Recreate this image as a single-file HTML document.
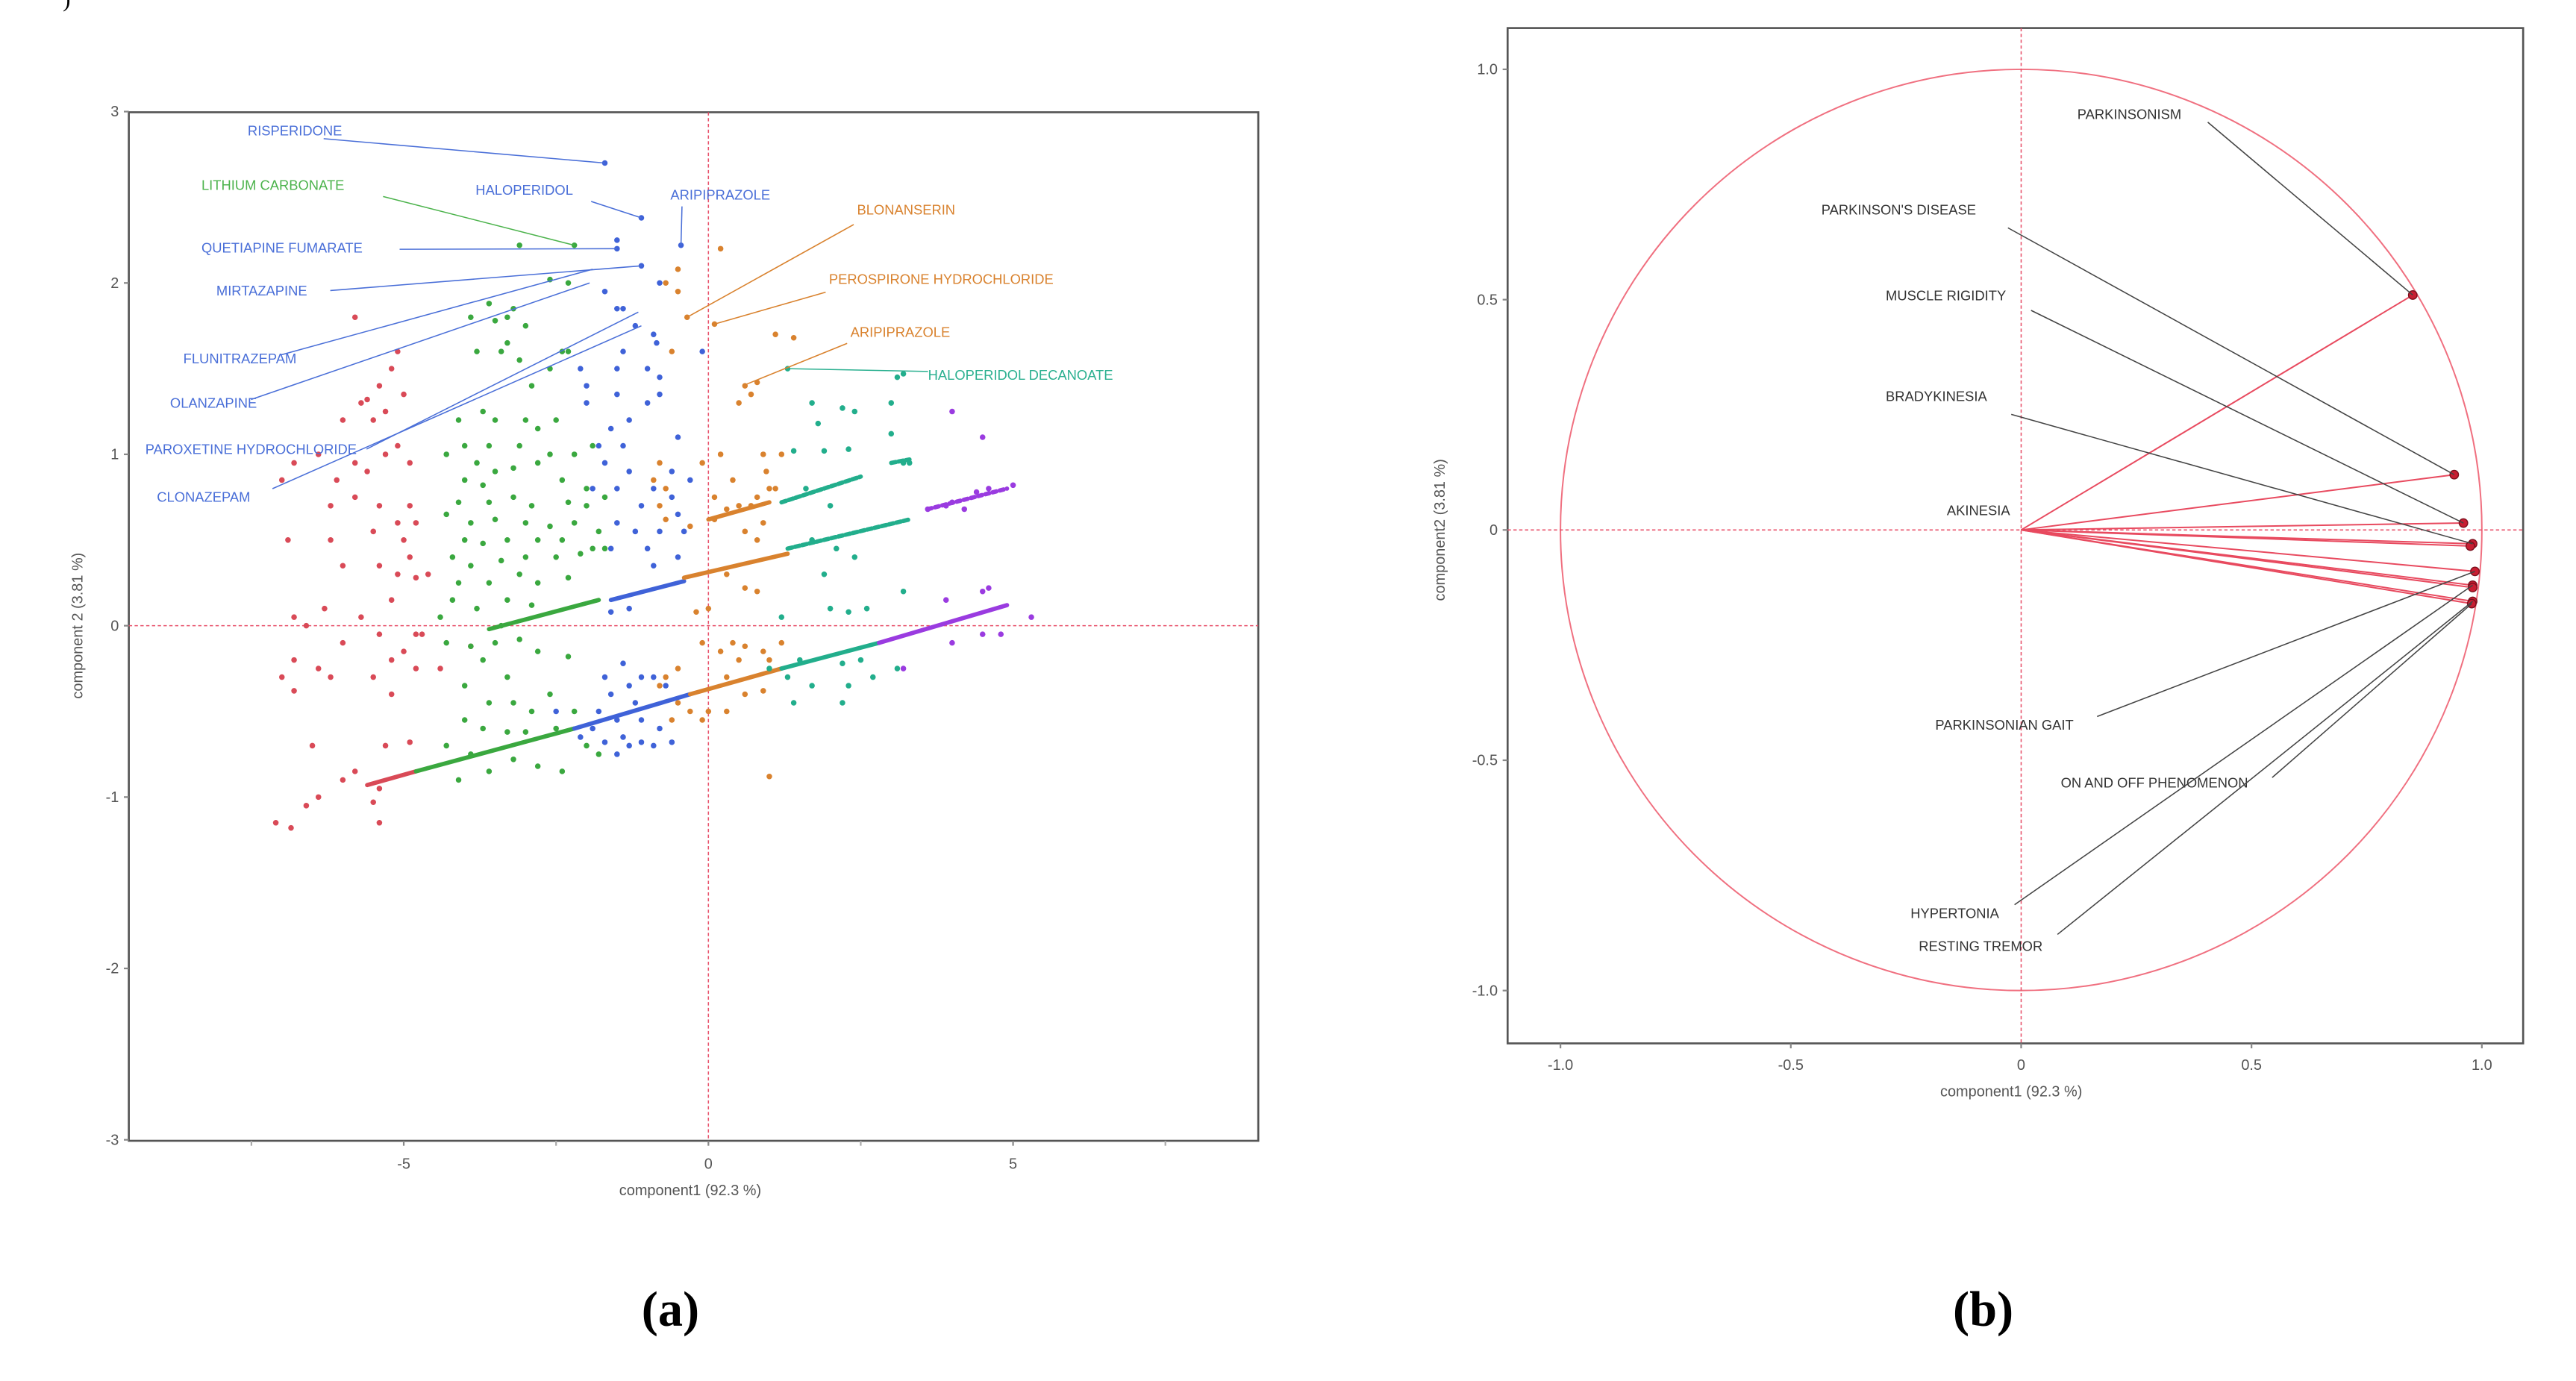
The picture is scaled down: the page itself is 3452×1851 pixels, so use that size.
<!DOCTYPE html>
<html><head><meta charset="utf-8"><style>
html,body{margin:0;padding:0;background:#fff;}
svg{display:block;}
text{font-family:"Liberation Sans","DejaVu Sans",sans-serif;}
text.cap{font-family:"Liberation Serif","DejaVu Serif",serif;font-weight:bold;}
</style></head><body>
<svg id="fig" width="3452" height="1851" viewBox="0 0 1560 836.5" xmlns="http://www.w3.org/2000/svg">
<text class="cap" x="38" y="4" font-size="14" style="font-weight:normal">)</text>
<g id="pa"></g>
<g id="pb"></g>
<text class="cap" x="406" y="803" font-size="30" text-anchor="middle">(a)</text>
<text class="cap" x="1201" y="803" font-size="30" text-anchor="middle">(b)</text>
</svg>
<script>
// ---------- Panel A data ----------
const aXTicks=[-5,0,5];
const aXMinor=[-7.5,-2.5,2.5,7.5];
const aYTicks=[3,2,1,0,-1,-2,-3];
const redPts=[[-5.8,1.8],[-5.1,1.6],[-5.2,1.5],[-5.4,1.4],[-5.7,1.3],[-5.6,1.32],[-5.3,1.25],[-5.5,1.2],[-5.0,1.35],[-6.0,1.2],[-6.4,1.0],[-5.8,0.95],[-5.3,1.0],[-5.6,0.9],[-5.1,1.05],[-4.9,0.95],[-6.1,0.85],[-6.8,0.95],[-7.0,0.85],[-6.9,0.5],[-6.2,0.7],[-5.8,0.75],[-5.4,0.7],[-4.9,0.7],[-4.8,0.6],[-5.1,0.6],[-5.0,0.5],[-6.2,0.5],[-5.5,0.55],[-4.9,0.4],[-5.1,0.3],[-4.8,0.28],[-4.6,0.3],[-5.4,0.35],[-6.0,0.35],[-5.2,0.15],[-5.7,0.05],[-6.3,0.1],[-6.8,0.05],[-6.6,0.0],[-5.4,-0.05],[-6.0,-0.1],[-4.8,-0.05],[-6.8,-0.2],[-6.4,-0.25],[-6.2,-0.3],[-5.2,-0.2],[-5.0,-0.15],[-4.4,-0.25],[-4.8,-0.25],[-7.0,-0.3],[-6.8,-0.38],[-5.5,-0.3],[-5.2,-0.4],[-6.5,-0.7],[-5.3,-0.7],[-4.9,-0.68],[-6.4,-1.0],[-6.6,-1.05],[-5.8,-0.85],[-6.0,-0.9],[-5.4,-0.95],[-7.1,-1.15],[-6.85,-1.18],[-5.4,-1.15],[-5.5,-1.03],[-4.7,-0.05],[-3.9,-0.12]];
const greenPts=[[-2.2,2.22],[-3.1,2.22],[-2.6,2.02],[-2.3,2.0],[-3.6,1.88],[-3.2,1.85],[-3.9,1.8],[-3.3,1.8],[-3.5,1.78],[-3.0,1.75],[-3.8,1.6],[-3.4,1.6],[-3.1,1.55],[-3.3,1.65],[-2.4,1.6],[-2.3,1.6],[-2.6,1.5],[-2.9,1.4],[-4.1,1.2],[-3.7,1.25],[-3.5,1.2],[-3.0,1.2],[-2.8,1.15],[-2.5,1.2],[-4.3,1.0],[-4.0,1.05],[-3.6,1.05],[-3.1,1.05],[-2.6,1.0],[-2.2,1.0],[-1.9,1.05],[-3.8,0.95],[-3.5,0.9],[-3.2,0.92],[-2.8,0.95],[-4.0,0.85],[-3.7,0.82],[-2.4,0.85],[-2.0,0.8],[-1.7,0.75],[-4.1,0.72],[-3.6,0.72],[-3.2,0.75],[-2.9,0.7],[-2.3,0.72],[-2.0,0.7],[-4.3,0.65],[-3.9,0.6],[-3.5,0.62],[-3.0,0.6],[-2.6,0.58],[-2.2,0.6],[-1.8,0.55],[-4.0,0.5],[-3.7,0.48],[-3.3,0.5],[-2.8,0.5],[-2.4,0.5],[-1.9,0.45],[-4.2,0.4],[-3.9,0.35],[-3.4,0.38],[-3.0,0.4],[-2.5,0.4],[-2.1,0.42],[-1.7,0.45],[-4.1,0.25],[-3.6,0.25],[-3.1,0.3],[-2.8,0.25],[-2.3,0.28],[-4.2,0.15],[-3.8,0.1],[-3.3,0.15],[-2.9,0.12],[-4.4,0.05],[-3.4,0.0],[-3.9,-0.12],[-3.5,-0.1],[-3.1,-0.08],[-4.3,-0.1],[-3.7,-0.2],[-2.8,-0.15],[-2.3,-0.18],[-3.3,-0.3],[-4.0,-0.35],[-2.6,-0.4],[-3.2,-0.45],[-3.6,-0.45],[-2.9,-0.5],[-2.2,-0.5],[-4.0,-0.55],[-3.7,-0.6],[-3.3,-0.62],[-3.0,-0.62],[-2.5,-0.6],[-4.3,-0.7],[-3.9,-0.75],[-3.2,-0.78],[-2.8,-0.82],[-2.4,-0.85],[-4.1,-0.9],[-3.6,-0.85],[-1.8,-0.75],[-2.0,-0.7]];
const bluePts=[[-1.7,2.7],[-1.1,2.38],[-1.5,2.25],[-1.5,2.2],[-1.1,2.1],[-0.8,2.0],[-1.7,1.95],[-1.5,1.85],[-1.4,1.85],[-1.2,1.75],[-0.9,1.7],[-0.85,1.65],[-1.4,1.6],[-0.1,1.6],[-2.1,1.5],[-1.5,1.5],[-1.0,1.5],[-0.8,1.45],[-2.0,1.4],[-1.5,1.35],[-1.0,1.3],[-0.8,1.35],[-2.0,1.3],[-1.3,1.2],[-1.6,1.15],[-0.5,1.1],[-1.8,1.05],[-1.4,1.05],[-1.7,0.95],[-1.3,0.9],[-0.6,0.9],[-0.3,0.85],[-1.9,0.8],[-1.5,0.8],[-0.9,0.8],[-0.6,0.75],[-1.1,0.7],[-0.5,0.65],[-1.5,0.6],[-1.2,0.55],[-0.8,0.55],[-0.4,0.55],[-1.6,0.45],[-1.0,0.45],[-0.5,0.4],[-0.9,0.35],[-1.3,0.1],[-1.6,0.08],[-1.4,-0.22],[-1.1,-0.3],[-1.7,-0.3],[-1.3,-0.35],[-0.9,-0.3],[-1.6,-0.4],[-1.2,-0.45],[-0.7,-0.35],[-1.8,-0.5],[-1.5,-0.55],[-1.1,-0.55],[-1.9,-0.6],[-1.4,-0.65],[-0.8,-0.6],[-1.7,-0.68],[-1.3,-0.7],[-0.9,-0.7],[-1.5,-0.75],[-1.1,-0.68],[-0.6,-0.68],[-2.1,-0.65],[-2.5,-0.5],[-0.45,2.22]];
const orangePts=[[-0.5,2.08],[-0.5,1.95],[-0.7,2.0],[0.2,2.2],[-0.35,1.8],[0.1,1.76],[1.1,1.7],[1.4,1.68],[-0.6,1.6],[0.6,1.4],[0.8,1.42],[0.5,1.3],[0.7,1.35],[0.2,1.0],[-0.1,0.95],[-0.8,0.95],[0.9,1.0],[1.2,1.0],[0.95,0.9],[0.4,0.85],[1.0,0.8],[0.8,0.75],[-0.7,0.8],[-0.9,0.85],[-0.8,0.7],[0.1,0.75],[0.5,0.7],[0.3,0.68],[0.1,0.62],[0.7,0.7],[-0.7,0.62],[-0.3,0.58],[0.6,0.55],[0.8,0.5],[0.9,0.6],[1.1,0.8],[0.3,0.3],[0.6,0.22],[0.8,0.2],[-0.2,0.08],[0.0,0.1],[-0.1,-0.1],[0.4,-0.1],[0.6,-0.12],[0.2,-0.15],[0.5,-0.2],[0.9,-0.15],[1.2,-0.1],[1.0,-0.2],[-0.7,-0.3],[-0.5,-0.25],[0.3,-0.3],[0.9,-0.38],[0.6,-0.4],[-0.5,-0.45],[-0.3,-0.5],[0.0,-0.5],[-0.6,-0.55],[-0.1,-0.55],[0.3,-0.5],[1.0,-0.88],[-0.8,-0.35]];
const tealPts=[[1.3,1.5],[3.1,1.45],[3.2,1.47],[3.0,1.3],[2.4,1.25],[1.8,1.18],[1.7,1.3],[2.2,1.27],[3.0,1.12],[1.4,1.02],[1.9,1.02],[2.3,1.03],[3.2,0.95],[3.3,0.95],[1.6,0.8],[2.0,0.7],[1.7,0.5],[2.1,0.45],[2.4,0.4],[1.9,0.3],[2.0,0.1],[2.3,0.08],[2.6,0.1],[3.2,0.2],[1.2,0.05],[1.0,-0.25],[1.5,-0.2],[2.2,-0.22],[2.7,-0.3],[3.1,-0.25],[1.3,-0.3],[1.7,-0.35],[2.3,-0.35],[2.2,-0.45],[1.4,-0.45],[2.5,-0.2]];
const purplePts=[[4.0,1.25],[4.5,1.1],[3.6,0.68],[3.9,0.7],[4.0,0.72],[4.2,0.68],[4.4,0.78],[4.6,0.8],[5.0,0.82],[4.5,0.2],[4.6,0.22],[3.9,0.15],[5.3,0.05],[4.0,-0.1],[4.5,-0.05],[4.8,-0.05],[3.2,-0.25]];
// band segments: [x1,y1,x2,y2,colorIndex]
const bands=[[-5.6,-0.93,-4.8,-0.85,0],[-4.8,-0.85,-2.2,-0.6,1],[-2.2,-0.6,-0.3,-0.4,2],[-0.3,-0.4,1.2,-0.25,3],[1.2,-0.25,2.8,-0.1,4],[2.8,-0.1,4.9,0.12,5],
[-3.6,-0.02,-1.8,0.15,1],[-1.6,0.15,-0.4,0.26,2],[-0.4,0.28,1.3,0.42,3],[1.3,0.45,3.3,0.62,4],[3.6,0.68,4.9,0.8,5],
[0.0,0.62,1.0,0.72,3],[1.2,0.72,2.5,0.87,4],[3.0,0.95,3.3,0.97,4]];
const colors=['#d94a57','#3aa83f','#3f62d8','#d9822e','#22ae8c','#9a3be0'];
const labelsA=[
 ['RISPERIDONE',150,82,196,84,-1.7,2.7,2],
 ['LITHIUM CARBONATE',122,115,232,119,-2.2,2.22,1],
 ['HALOPERIDOL',288,118,358,122,-1.1,2.38,2],
 ['ARIPIPRAZOLE',406,121,413,125,-0.45,2.22,2],
 ['QUETIAPINE FUMARATE',122,153,242,151,-1.5,2.2,2],
 ['MIRTAZAPINE',131,179,200,176,-1.1,2.1,2],
 ['FLUNITRAZEPAM',111,220,170,215,-1.9,2.08,2],
 ['OLANZAPINE',103,247,152,242,-1.95,2.0,2],
 ['PAROXETINE HYDROCHLORIDE',88,275,222,272,-1.15,1.83,2],
 ['CLONAZEPAM',95,304,165,296,-1.1,1.75,2],
 ['BLONANSERIN',519,130,517,136,-0.35,1.8,3],
 ['PEROSPIRONE HYDROCHLORIDE',502,172,500,177,0.1,1.76,3],
 ['ARIPIPRAZOLE',515,204,513,208,0.63,1.41,3],
 ['HALOPERIDOL DECANOATE',562,230,562,225,1.3,1.5,4]
];
// ---------- Panel B data ----------
const bTicks=[-1.0,-0.5,0,0.5,1.0];
const bTickLabels=['-1.0','-0.5','0','0.5','1.0'];
const loadX=[0.85,0.94,0.96,0.98,0.975,0.985,0.98,0.98,0.98,0.978];
const loadY=[0.51,0.12,0.015,-0.03,-0.035,-0.09,-0.12,-0.125,-0.155,-0.16];
const labelsB=[
 ['PARKINSONISM',1258,72,1337,74,0],
 ["PARKINSON'S DISEASE",1103,130,1216,138,1],
 ['MUSCLE RIGIDITY',1142,182,1230,188,2],
 ['BRADYKINESIA',1142,243,1218,251,3],
 ['AKINESIA',1179,312,null,null,4],
 ['PARKINSONIAN GAIT',1172,442,1270,434,5],
 ['ON AND OFF PHENOMENON',1248,477,1376,471,9],
 ['HYPERTONIA',1157,556,1220,548,6],
 ['RESTING TREMOR',1162,576,1246,566,8]
];

const NS='http://www.w3.org/2000/svg';
function mk(p,tag,attrs,txt){const e=document.createElementNS(NS,tag);for(const k in attrs)e.setAttribute(k,attrs[k]);if(txt!==undefined)e.textContent=txt;p.appendChild(e);return e;}

// ---- Panel A ----
const pa=document.getElementById('pa');
const AL=78,AR=762,AT=68,AB=691;
const ax=v=>429+v*36.9, ay=v=>379-v*103.8;
let r=mk(pa,'rect',{x:AL,y:AT,width:AR-AL,height:AB-AT,fill:'none',stroke:'#555','stroke-width':1.2});


let l=mk(pa,'line',{x1:ax(0),x2:ax(0),y1:AT,y2:AB,stroke:'#e8506a','stroke-width':0.7,'stroke-dasharray':'2,1.5'});


l=mk(pa,'line',{x1:AL,x2:AR,y1:ay(0),y2:ay(0),stroke:'#e8506a','stroke-width':0.7,'stroke-dasharray':'2,1.5'});


aXTicks.forEach(v=>{mk(pa,'line',{x1:ax(v),x2:ax(v),y1:AB,y2:AB+3,stroke:'#888'});
 const t=mk(pa,'text',{x:ax(v),y:AB+17,'font-size':9,'text-anchor':'middle',fill:'#555'},v===0?'0':String(v));
 
 });
aXMinor.forEach(v=>mk(pa,'line',{x1:ax(v),x2:ax(v),y1:AB,y2:AB+3,stroke:'#aaa'}));
aYTicks.forEach(v=>{mk(pa,'line',{x1:AL-3,x2:AL,y1:ay(v),y2:ay(v),stroke:'#888'});
 const t=mk(pa,'text',{x:AL-6,y:ay(v)+3,'font-size':9,'text-anchor':'end',fill:'#555'},String(v));
 
 });
let t=mk(pa,'text',{x:418,y:724,'font-size':9,'text-anchor':'middle',fill:'#555'},'component1  (92.3 %)');


t=mk(pa,'text',{x:0,y:0,'font-size':9,'text-anchor':'middle',fill:'#555',transform:'translate(50,379) rotate(-90)'},'component 2  (3.81 %)');


bands.forEach(b=>{const s=mk(pa,'line',{x1:ax(b[0]),y1:ay(b[1]),x2:ax(b[2]),y2:ay(b[3]),stroke:colors[b[4]],'stroke-width':2.6,'stroke-dasharray':b[4]===5&&b[1]>0.5?'2.5,2':(b[0]>1.1&&b[1]>0.4?'3,1.5':'none'),'stroke-linecap':'round'});
 
 });
[[redPts,0,'red-cluster'],[greenPts,1,'green-cluster'],[bluePts,2,'blue-cluster'],[orangePts,3,'orange-cluster'],[tealPts,4,'teal-cluster'],[purplePts,5,'purple-cluster']].forEach(([arr,ci,nm])=>{
 const g=mk(pa,'g',{fill:colors[ci]});
 
 
 arr.forEach(p=>{const c=mk(g,'circle',{cx:ax(p[0]),cy:ay(p[1]),r:1.7});
  
  });
});
const lblColA=['#d94a57','#4cb34c','#4a6fd8','#d9822e','#2bb090'];
labelsA.forEach(L=>{const col=lblColA[L[7]];
 const ln=mk(pa,'line',{x1:L[3],y1:L[4],x2:ax(L[5]),y2:ay(L[6]),stroke:col,'stroke-width':0.7});
 
 
 const tx=mk(pa,'text',{x:L[1],y:L[2],'font-size':8.3,fill:col},L[0]);
 
 });

// ---- Panel B ----
const pb=document.getElementById('pb');
const BL=913,BR=1528,BT=17,BB=632;
const bx=v=>1224+v*279, by=v=>321-v*279;
r=mk(pb,'rect',{x:BL,y:BT,width:BR-BL,height:BB-BT,fill:'none',stroke:'#555','stroke-width':1.2});


const circ=mk(pb,'circle',{cx:bx(0),cy:by(0),r:279,fill:'none',stroke:'#f07080','stroke-width':0.9});


l=mk(pb,'line',{x1:bx(0),x2:bx(0),y1:BT,y2:BB,stroke:'#e8506a','stroke-width':0.7,'stroke-dasharray':'2,1.5'});


l=mk(pb,'line',{x1:BL,x2:BR,y1:by(0),y2:by(0),stroke:'#e8506a','stroke-width':0.7,'stroke-dasharray':'2,1.5'});


bTicks.forEach((v,i)=>{
 mk(pb,'line',{x1:bx(v),x2:bx(v),y1:BB,y2:BB+3,stroke:'#888'});
 mk(pb,'line',{x1:BL-3,x2:BL,y1:by(v),y2:by(v),stroke:'#888'});
 let a=mk(pb,'text',{x:bx(v),y:BB+16,'font-size':9,'text-anchor':'middle',fill:'#555'},bTickLabels[i]);
 
 
 a=mk(pb,'text',{x:BL-6,y:by(v)+3,'font-size':9,'text-anchor':'end',fill:'#555'},bTickLabels[i]);
 
 });
t=mk(pb,'text',{x:1218,y:664,'font-size':9,'text-anchor':'middle',fill:'#555'},'component1  (92.3 %)');


t=mk(pb,'text',{x:0,y:0,'font-size':9,'text-anchor':'middle',fill:'#555',transform:'translate(875,321) rotate(-90)'},'component2  (3.81 %)');


loadX.forEach((x,i)=>{
 const v=mk(pb,'line',{x1:bx(0),y1:by(0),x2:bx(x),y2:by(loadY[i]),stroke:'#e84a5f','stroke-width':0.9});
 
 
 const d=mk(pb,'circle',{cx:bx(x),cy:by(loadY[i]),r:2.6,fill:'#c81e32',stroke:'#7a0f1c','stroke-width':0.6});
 
 });
labelsB.forEach(L=>{
 if(L[3]!==null){const ln=mk(pb,'line',{x1:L[3],y1:L[4],x2:bx(loadX[L[5]]),y2:by(loadY[L[5]]),stroke:'#444','stroke-width':0.7});
  
  }
 const tx=mk(pb,'text',{x:L[1],y:L[2],'font-size':8.3,fill:'#333'},L[0]);
 
 });
</script>
</body></html>
